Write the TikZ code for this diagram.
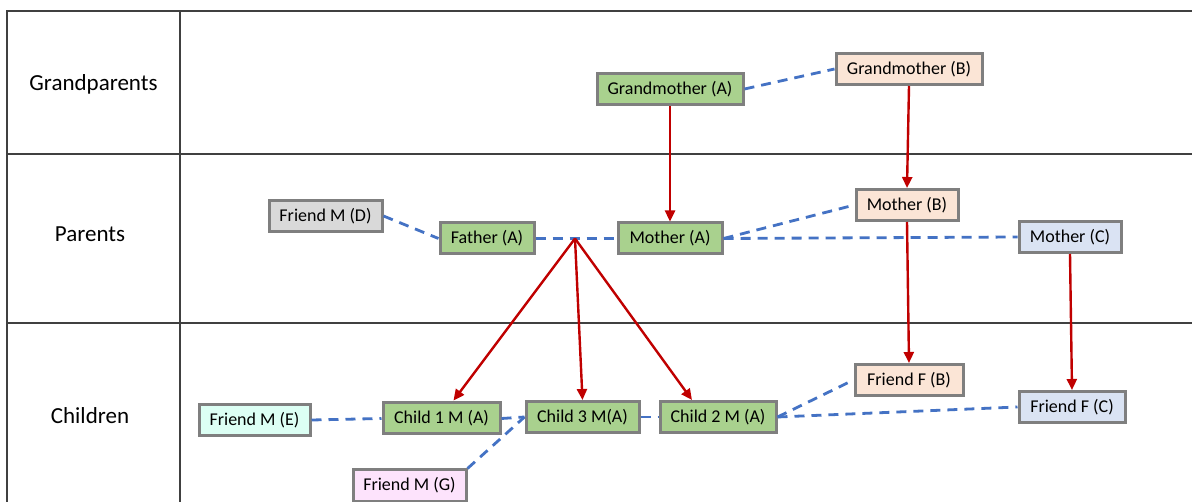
\documentclass[tikz,border=0pt]{standalone}
\usepackage{fontspec}
\setmainfont{Carlito}
\usetikzlibrary{calc,arrows.meta}
\definecolor{gridline}{HTML}{404040}
\definecolor{boxedge}{HTML}{7F7F7F}
\definecolor{famA}{HTML}{A9D18E}
\definecolor{famB}{HTML}{FBE5D6}
\definecolor{famC}{HTML}{DAE3F3}
\definecolor{famD}{HTML}{D9D9D9}
\definecolor{famE}{HTML}{DCFFF4}
\definecolor{famG}{HTML}{FDE3FC}
\definecolor{linkblue}{HTML}{4472C4}
\definecolor{descred}{HTML}{C00000}
\tikzset{
  person/.style={draw=boxedge, line width=3pt, minimum height=31pt, inner sep=0pt,
    font=\fontsize{18}{21}\selectfont, text=black},
  rowlabel/.style={font=\fontsize{23}{27}\selectfont, text=black},
  tie/.style={draw=linkblue, line width=2.8pt, dash pattern=on 10pt off 7pt},
  descent/.style={draw=descred, line width=2.4pt, -{Triangle[length=11pt,width=10pt]}},
  grid/.style={draw=gridline, line width=1.1pt}
}
\begin{document}
\begin{tikzpicture}[x=1pt,y=-1pt]
\useasboundingbox (0,0) rectangle (1192,502);
\fill[white] (0,0) rectangle (1192,502);

% table of generations
\draw[grid] (7,502) -- (7,11) -- (1192,11);
\draw[grid] (7,154) -- (1192,154);
\draw[grid] (7,323) -- (1192,323);
\draw[grid] (180,11) -- (180,502);

\node[rowlabel] (lblG) at (93.5,84) {Grandparents};
\node[rowlabel] (lblP) at (90,234) {Parents};
\node[rowlabel] (lblC) at (90,416) {Children};

% grandparents
\node[person, fill=famA, minimum width=146pt] (GA) at (670,89) {Grandmother (A)};
\node[person, fill=famB, minimum width=146pt] (GB) at (909,69) {Grandmother (B)};

% parents
\node[person, fill=famD, minimum width=113pt] (FD) at (325.5,216) {Friend M (D)};
\node[person, fill=famA, minimum width=94pt] (FA) at (487,238.5) {Father (A)};
\node[person, fill=famA, minimum width=104pt] (MA) at (670,238.5) {Mother (A)};
\node[person, fill=famB, minimum width=102pt] (MB) at (907,205) {Mother (B)};
\node[person, fill=famC, minimum width=102pt] (MC) at (1070,237) {Mother (C)};

% children
\node[person, fill=famE, minimum width=111pt] (FE) at (254.5,420) {Friend M (E)};
\node[person, fill=famA, minimum width=117pt] (C1) at (441.5,418.5) {Child 1 M (A)};
\node[person, fill=famA, minimum width=113pt] (C3) at (582.5,417) {Child 3 M(A)};
\node[person, fill=famA, minimum width=116pt] (C2) at (718,417) {Child 2 M (A)};
\node[person, fill=famB, minimum width=108pt] (FB) at (909,380) {Friend F (B)};
\node[person, fill=famC, minimum width=106pt] (FC) at (1072,407) {Friend F (C)};
\node[person, fill=famG, minimum width=113pt] (FG) at (409.5,485.5) {Friend M (G)};

\coordinate (J) at (575,238.5);

% partnerships and friendships
\draw[tie] (GA.east) -- (GB.west);
\draw[tie] (FD.east) -- (FA.west);
\draw[tie] (FA.east) -- (J) -- (MA.west);
\draw[tie] (MA.east) -- (MB.west);
\draw[tie] (MA.east) -- (MC.west);
\draw[tie] (FE.east) -- (C1.west);
\draw[tie] (C1.east) -- (C3.west);
\draw[tie] (FG.north east) -- (C3.west);
\draw[tie] (C3.east) -- (C2.west);
\draw[tie] (C2.east) -- (FB.west);
\draw[tie] (C2.east) -- (FC.west);

% descent
\draw[descent] (GA.south) -- (MA.north);
\draw[descent] (GB.south) -- (MB.north);
\draw[descent] (MB.south) -- (FB.north);
\draw[descent] (MC.south) -- (FC.north);
\draw[descent] (J) -- ($(C1.north)+(12,-1)$);
\draw[descent] (J) -- ($(C3.north)+(0,0)$);
\draw[descent] (J) -- ($(C2.north)+(-26,0)$);
\end{tikzpicture}
\end{document}
